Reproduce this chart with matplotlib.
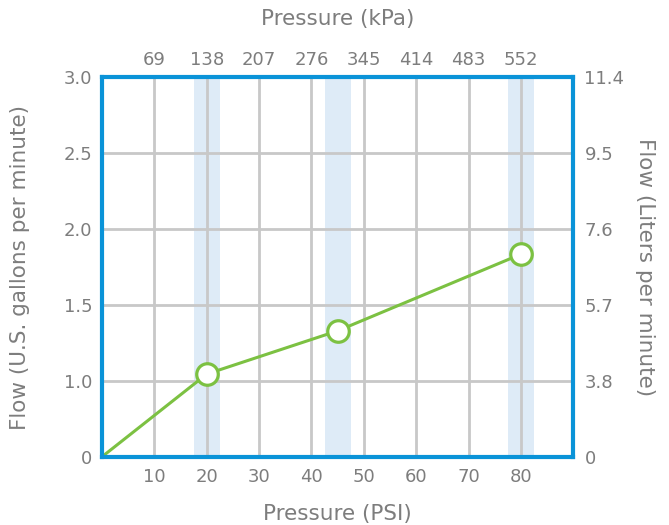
import numpy as np
import matplotlib
matplotlib.use("Agg")
import matplotlib.pyplot as plt

# data
psi = [0, 20, 45, 80]
gpm = [0, 1.045, 1.33, 1.835]
marked_psi = [20, 45, 80]
marked_gpm = [1.045, 1.33, 1.835]

psi_ticks = [10, 20, 30, 40, 50, 60, 70, 80]
kpa_labels = ["69", "138", "207", "276", "345", "414", "483", "552"]
gpm_ticks = [0, 1.0, 1.5, 2.0, 2.5, 3.0]
gpm_labels = ["0", "1.0", "1.5", "2.0", "2.5", "3.0"]
lpm_labels = ["0", "3.8", "5.7", "7.6", "9.5", "11.4"]
bands = [(17.5, 22.5), (42.5, 47.5), (77.5, 82.5)]

grey = "#7d7d7d"
blue = "#0a93d8"
green = "#7cc142"
plt.rcParams["font.family"] = ["DejaVu Sans"]


# the y axis is not linear: 0 -> 1.0 takes the same room as each 0.5 step after it
def fwd(v):
    v = np.asarray(v, dtype=float)
    return np.where(v <= 1, v, 1 + (v - 1) * 2)


def inv(p):
    p = np.asarray(p, dtype=float)
    return np.where(p <= 1, p, 1 + (p - 1) / 2)


fig = plt.figure(figsize=(6.69, 5.25), dpi=100)
ax = fig.add_axes([0.1525, 0.130, 0.7045, 0.7225])
ax.set_yscale("function", functions=(fwd, inv))
ax.set_xlim(0, 90)
ax.set_ylim(0, 3.0)

for a, b in bands:
    ax.axvspan(a, b, color="#deebf7", zorder=0, lw=0)

for x in psi_ticks:
    ax.axvline(x, color="#c8c8c8", lw=2, zorder=1)
for y in gpm_ticks[1:-1]:
    ax.axhline(y, color="#c8c8c8", lw=2, zorder=1)

ax.plot(psi, gpm, color=green, lw=2.2, zorder=3, solid_capstyle="round")
ax.plot(marked_psi, marked_gpm, "o", ms=15.5, mfc="white", mec=green, mew=2.3, zorder=4)

for s in ax.spines.values():
    s.set_color(blue)
    s.set_linewidth(3)
    s.set_zorder(5)

ax.set_xticks(psi_ticks)
ax.set_yticks(gpm_ticks)
ax.set_yticklabels(gpm_labels)
ax.tick_params(length=0, labelsize=13, colors=grey, pad=7)
ax.tick_params(axis="x", pad=8)
ax.set_xlabel("Pressure (PSI)", fontsize=15.5, color=grey, labelpad=13)
ax.set_ylabel("Flow (U.S. gallons per minute)", fontsize=15.5, color=grey, labelpad=24)

top = ax.twiny()
top.set_xlim(ax.get_xlim())
top.set_xticks(psi_ticks)
top.set_xticklabels(kpa_labels)
top.tick_params(length=0, labelsize=13, colors=grey, pad=6)
top.set_xlabel("Pressure (kPa)", fontsize=15.5, color=grey, labelpad=19)

right = ax.twinx()
right.set_yscale("function", functions=(fwd, inv))
right.set_ylim(ax.get_ylim())
right.set_yticks(gpm_ticks)
right.set_yticklabels(lpm_labels)
right.tick_params(length=0, labelsize=13, colors=grey, pad=8)
right.set_ylabel("Flow (Liters per minute)", fontsize=15.5, color=grey, rotation=-90, labelpad=22)

for extra in (top, right):
    for s in extra.spines.values():
        s.set_visible(False)

fig.savefig("out.png", dpi=100)
